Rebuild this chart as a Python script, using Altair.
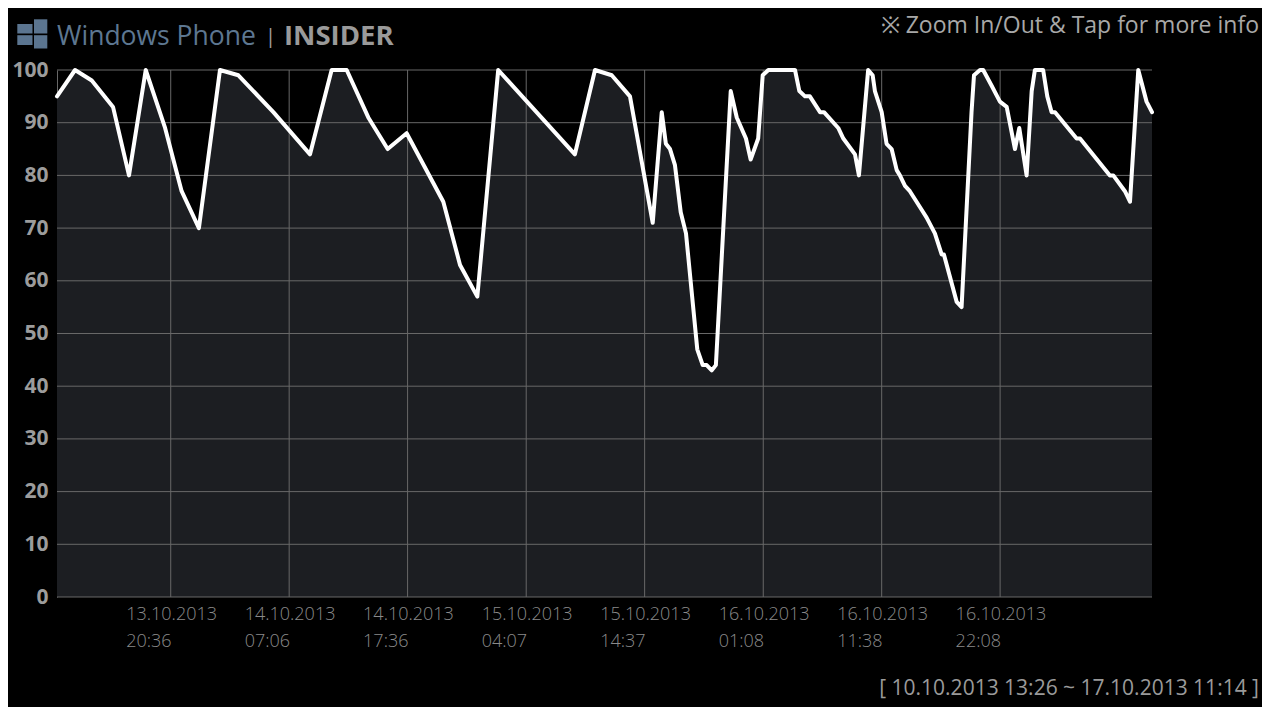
import altair as alt
import pandas as pd

# ---- data ----
times = [
    "2013-10-13T10:31", "2013-10-13T12:07", "2013-10-13T13:36", "2013-10-13T15:29",
    "2013-10-13T16:54", "2013-10-13T18:23", "2013-10-13T20:06", "2013-10-13T21:34",
    "2013-10-13T23:06", "2013-10-14T00:58", "2013-10-14T02:36", "2013-10-14T05:42",
    "2013-10-14T08:57", "2013-10-14T10:52", "2013-10-14T12:12", "2013-10-14T14:07",
    "2013-10-14T15:50", "2013-10-14T17:31", "2013-10-14T20:46", "2013-10-14T22:15",
    "2013-10-14T23:47", "2013-10-15T01:38", "2013-10-15T08:26", "2013-10-15T10:13",
    "2013-10-15T11:42", "2013-10-15T13:19", "2013-10-15T15:20", "2013-10-15T16:08",
    "2013-10-15T16:30", "2013-10-15T16:52", "2013-10-15T17:18", "2013-10-15T17:49",
    "2013-10-15T18:17", "2013-10-15T19:17", "2013-10-15T19:46", "2013-10-15T20:07",
    "2013-10-15T20:34", "2013-10-15T20:56", "2013-10-15T22:15", "2013-10-15T22:47",
    "2013-10-15T23:36", "2013-10-16T00:01", "2013-10-16T00:41", "2013-10-16T01:05",
    "2013-10-16T01:35", "2013-10-16T03:57", "2013-10-16T04:20", "2013-10-16T04:50",
    "2013-10-16T05:16", "2013-10-16T06:10", "2013-10-16T06:31", "2013-10-16T07:47",
    "2013-10-16T08:14", "2013-10-16T09:16", "2013-10-16T09:37", "2013-10-16T10:26",
    "2013-10-16T10:50", "2013-10-16T11:02", "2013-10-16T11:38", "2013-10-16T12:04",
    "2013-10-16T12:31", "2013-10-16T12:58", "2013-10-16T13:15", "2013-10-16T13:42",
    "2013-10-16T14:08", "2013-10-16T15:19", "2013-10-16T15:37", "2013-10-16T16:21",
    "2013-10-16T16:57", "2013-10-16T17:09", "2013-10-16T18:17", "2013-10-16T18:43",
    "2013-10-16T19:36", "2013-10-16T19:49", "2013-10-16T20:21", "2013-10-16T20:38",
    "2013-10-16T21:23", "2013-10-16T22:07", "2013-10-16T22:43", "2013-10-16T23:27",
    "2013-10-16T23:50", "2013-10-17T00:29", "2013-10-17T00:56", "2013-10-17T01:13",
    "2013-10-17T01:57", "2013-10-17T02:19", "2013-10-17T02:42", "2013-10-17T03:00",
    "2013-10-17T04:55", "2013-10-17T05:13", "2013-10-17T07:52", "2013-10-17T08:10",
    "2013-10-17T09:12", "2013-10-17T09:39", "2013-10-17T10:23", "2013-10-17T11:07",
    "2013-10-17T11:36",
]
battery = [
    95, 100, 98, 93,
    80, 100, 89, 77,
    70, 100, 99, 92,
    84, 100, 100, 91,
    85, 88, 75, 63,
    57, 100, 84, 100,
    99, 95, 71, 92,
    86, 85, 82, 73,
    69, 47, 44, 44,
    43, 44, 96, 91,
    87, 83, 87, 99,
    100, 100, 96, 95,
    95, 92, 92, 89,
    87, 84, 80, 100,
    99, 96, 92, 86,
    85, 81, 80, 78,
    77, 73, 72, 69,
    65, 65, 56, 55,
    92, 99, 100, 100,
    97, 94, 93, 85,
    89, 80, 96, 100,
    100, 95, 92, 92,
    87, 87, 80, 80,
    77, 75, 100, 94,
    92,
]
tick_times = [
    "2013-10-13T20:36", "2013-10-14T07:06", "2013-10-14T17:36", "2013-10-15T04:07",
    "2013-10-15T14:37", "2013-10-16T01:08", "2013-10-16T11:38", "2013-10-16T22:08",
]
y_ticks = [0, 10, 20, 30, 40, 50, 60, 70, 80, 90, 100]
domain_times = ["2013-10-13T10:31", "2013-10-17T11:36"]

header_left = "Windows Phone"
header_brand = "INSIDER"
header_right = "※ Zoom In/Out & Tap for more info"
range_text = "[ 10.10.2013 13:26 ~ 17.10.2013 11:14 ]"


def ms(lst):
    return [int(pd.Timestamp(s, tz="UTC").value // 10**6) for s in lst]


df = pd.DataFrame({"t": ms(times), "v": battery})
xgrid = pd.DataFrame({"t": ms(tick_times)})
ygrid = pd.DataFrame({"v": y_ticks})

FONT = "Open Sans"
GRID = "#686868"

xscale = alt.Scale(type="utc", domain=ms(domain_times))
yscale = alt.Scale(domain=[0, 100], nice=False)

xaxis = alt.Axis(
    values=ms(tick_times),
    labelExpr="[utcFormat(datum.value, '%d.%m.%Y'), utcFormat(datum.value, '%H:%M')]",
    grid=False, domain=False, ticks=False, title=None,
    labelAlign="left", labelBaseline="top", labelPadding=8, labelOffset=-45,
    labelLineHeight=27, labelFont=FONT, labelFontSize=18,
    labelColor="#8a8a8a", labelFontWeight=300, labelOverlap=False,
)
yaxis = alt.Axis(
    values=y_ticks, grid=False, ticks=False, tickSize=0, title=None,
    domain=True, domainColor=GRID, domainWidth=1,
    labelFont=FONT, labelFontSize=21, labelFontWeight="bold",
    labelColor="#9c9c9c", labelPadding=9, labelBaseline="middle",
)

area = alt.Chart(df).mark_area(color="#1c1e22").encode(
    x=alt.X("t:T", scale=xscale, axis=xaxis),
    y=alt.Y("v:Q", scale=yscale, axis=yaxis),
)
yrules = alt.Chart(ygrid).mark_rule(color=GRID, strokeWidth=1).encode(
    y=alt.Y("v:Q", scale=yscale)
)
xrules = alt.Chart(xgrid).mark_rule(color=GRID, strokeWidth=1).encode(
    x=alt.X("t:T", scale=xscale)
)
line = alt.Chart(df).mark_line(
    color="white", strokeWidth=4, strokeJoin="round", strokeCap="round"
).encode(
    x=alt.X("t:T", scale=xscale),
    y=alt.Y("v:Q", scale=yscale),
)

one = alt.Data(values=[{}])
LOGO = "#5b7590"


def tile(x1, x2, y1, y2):
    return alt.Chart(one).mark_rect(color=LOGO).encode(
        x=alt.value(x1), x2=alt.value(x2), y=alt.value(y1), y2=alt.value(y2)
    )


logo = [
    tile(-39.7, -24.5, -46, -36.5),
    tile(-23, -9.7, -50.7, -36.5),
    tile(-39.7, -24.5, -34.8, -25),
    tile(-23, -9.7, -34.8, -21.5),
]


def label(txt, x, y, size, color, weight="normal", align="left"):
    return alt.Chart(one).mark_text(
        text=txt, font=FONT, fontSize=size, color=color, fontWeight=weight,
        align=align, baseline="alphabetic",
    ).encode(x=alt.value(x), y=alt.value(y))


texts = [
    label(header_left, 0, -25, 26.5, "#5d7791"),
    label("|", 208, -27, 20, "#a0a0a0"),
    label(header_brand, 227, -25, 27.5, "#9a9a9a", weight="bold"),
    label(header_right, 1202, -37, 23, "#a8a8a8", align="right"),
    label(range_text, 1202, 625, 21, "#9a9a9a", align="right"),
]

chart = alt.layer(area, yrules, xrules, line, *logo, *texts).properties(
    width=1095,
    height=527,
    autosize=alt.AutoSizeParams(type="none"),
    padding={"left": 49, "top": 62, "right": 110, "bottom": 110},
    background="black",
).configure_view(
    stroke=None, fill="black"
)

chart.save("out.html", embed_options={"renderer": "svg", "actions": False})
